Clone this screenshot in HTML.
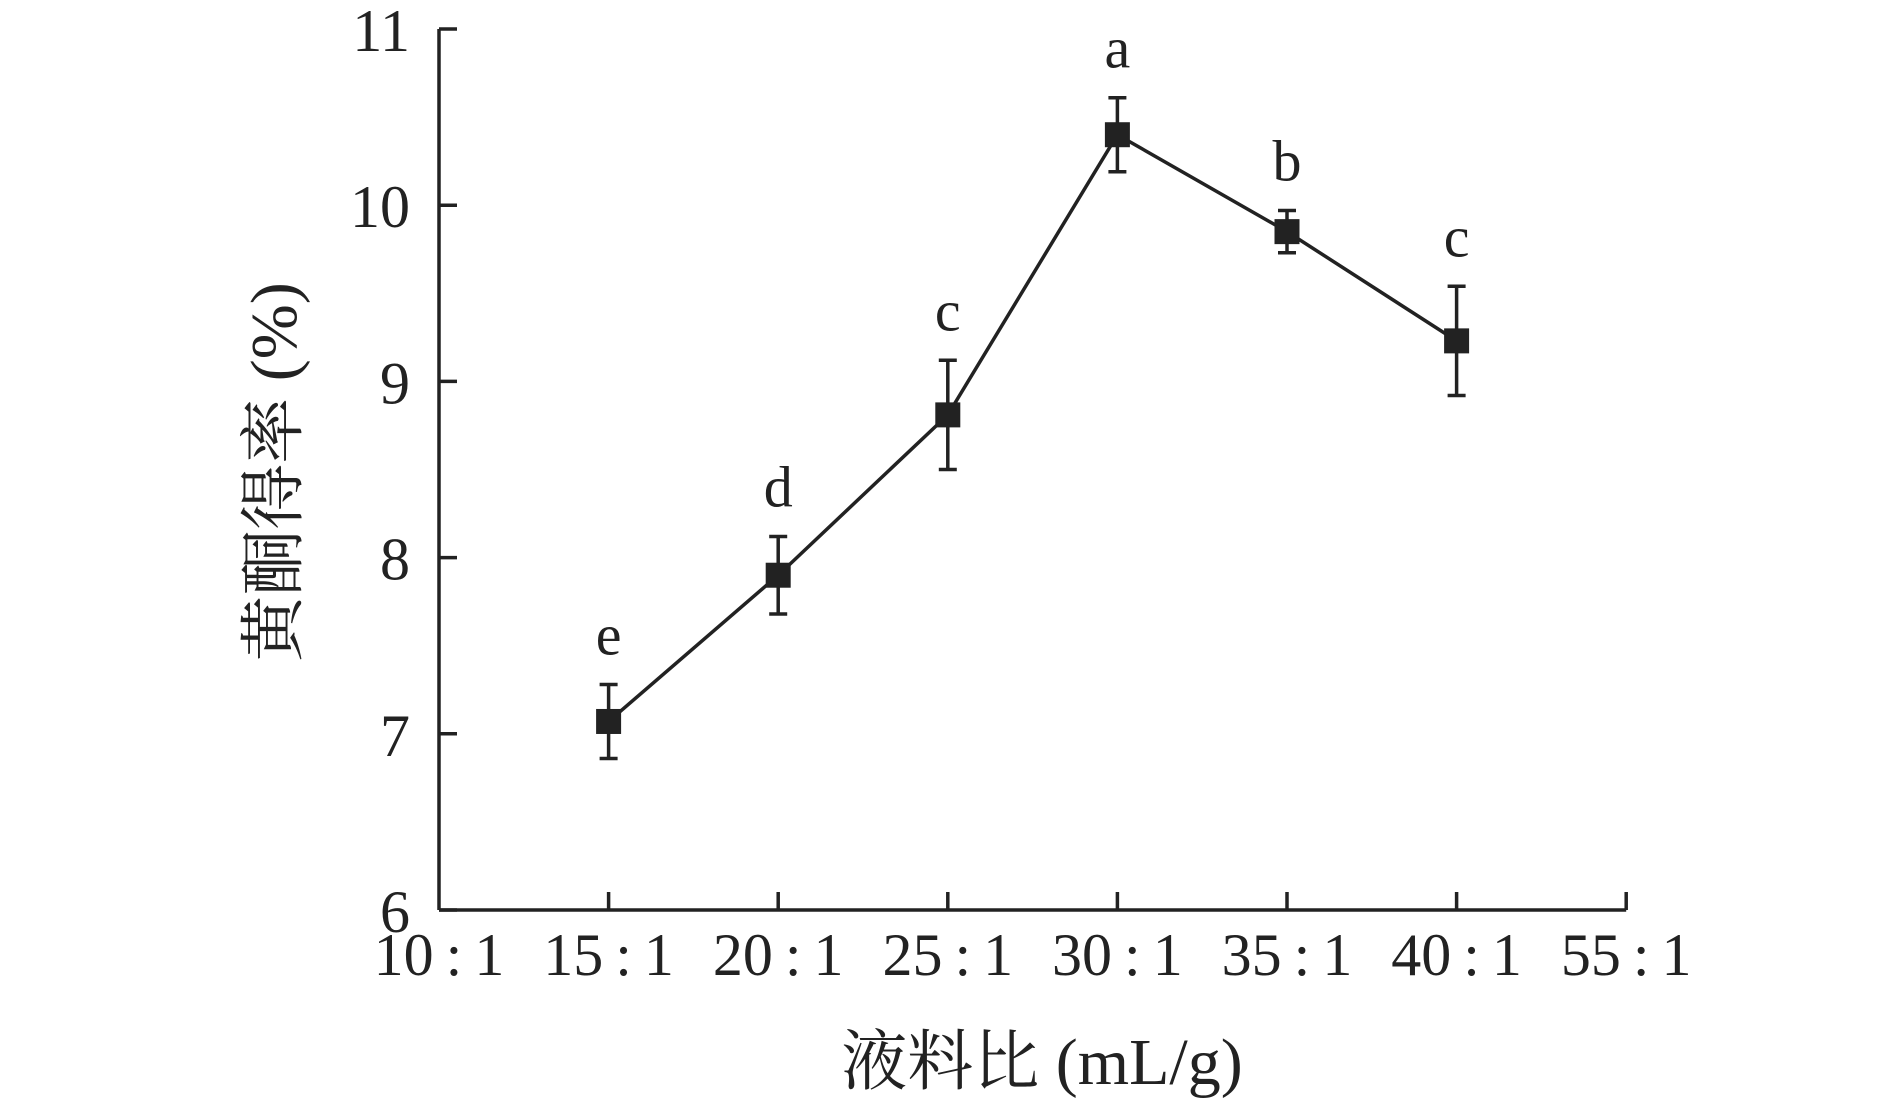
<!DOCTYPE html>
<html><head><meta charset="utf-8"><style>
html,body{margin:0;padding:0;background:#fff;}
svg text{font-family:"Liberation Serif","Noto Serif CJK SC",serif;fill:#222;}
</style></head><body>
<svg id="chart" width="1890" height="1099" viewBox="0 0 1890 1099" xmlns="http://www.w3.org/2000/svg"></svg>
<script>
const categories = ["10:1","15:1","20:1","25:1","30:1","35:1","40:1","55:1"];
const pointIndex = [1,2,3,4,5,6];
const values = [7.07, 7.9, 8.81, 10.4, 9.85, 9.23];
const errors = [0.21, 0.22, 0.31, 0.21, 0.12, 0.31];
const letters = ["e","d","c","a","b","c"];
const yTicks = [6,7,8,9,10,11];

const svg = document.getElementById('chart');
const NS = 'http://www.w3.org/2000/svg';
const X0 = 439, DX = 169.6, Y0 = 910, YUNIT = 176.2;
function xs(i){ return X0 + i*DX; }
function ys(v){ return Y0 - (v-6)*YUNIT; }
function el(tag, attrs, parent){
  const e = document.createElementNS(NS, tag);
  for (const k in attrs) e.setAttribute(k, attrs[k]);
  (parent||svg).appendChild(e);
  return e;
}
const C = '#222';
const SW = 3.5;
const ya = el('line',{x1:X0,y1:ys(11),x2:X0,y2:Y0,stroke:C,'stroke-width':SW});


const xa = el('line',{x1:X0,y1:Y0,x2:xs(7),y2:Y0,stroke:C,'stroke-width':SW});


yTicks.forEach(v=>{
  const t = el('line',{x1:X0,y1:ys(v),x2:X0+18,y2:ys(v),stroke:C,'stroke-width':SW});
  
  
  const l = el('text',{x:410,y:ys(v)+22,'text-anchor':'end','font-size':60});
  l.textContent = v;
  
  
});
categories.forEach((c,i)=>{
  if(i>0){
    const t = el('line',{x1:xs(i),y1:Y0,x2:xs(i),y2:Y0-18,stroke:C,'stroke-width':SW});
    
    
  }
  const l = el('text',{x:xs(i),y:975,'text-anchor':'middle','font-size':60});
  l.textContent = c.replace(':','\u2009:\u2009');
  
  
});
const pts = values.map((v,k)=>xs(pointIndex[k])+','+ys(v)).join(' ');
const pl = el('polyline',{points:pts,fill:'none',stroke:C,'stroke-width':SW});


values.forEach((v,k)=>{
  const x = xs(pointIndex[k]);
  const top = ys(v+errors[k]), bot = ys(v-errors[k]);
  const g = el('g',{});
  
  
  el('line',{x1:x,y1:top,x2:x,y2:bot,stroke:C,'stroke-width':SW},g);
  el('line',{x1:x-9,y1:top,x2:x+9,y2:top,stroke:C,'stroke-width':SW},g);
  el('line',{x1:x-9,y1:bot,x2:x+9,y2:bot,stroke:C,'stroke-width':SW},g);
  el('rect',{x:x-12.5,y:ys(v)-12.5,width:25,height:25,fill:C},g);
  const l = el('text',{x:x,y:top-30,'text-anchor':'middle','font-size':58});
  l.textContent = letters[k];
  
  
});
const xt = el('text',{x:1042,y:1084,'text-anchor':'middle','font-size':66});
xt.textContent = '液料比 (mL/g)';


const yt = el('text',{x:0,y:0,'text-anchor':'middle','font-size':66,transform:'translate(296,472) rotate(-90)'});
yt.textContent = '黄酮得率 (%)';


</script>
</body></html>
